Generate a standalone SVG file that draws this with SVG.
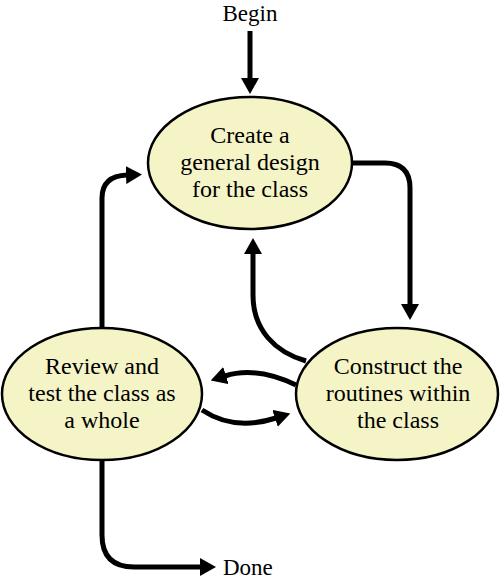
<svg xmlns="http://www.w3.org/2000/svg" width="500" height="582" viewBox="0 0 500 582">
<style>
.bub ellipse{fill:#f5f4c6;stroke:#000;stroke-width:2.5}
.conn path{fill:none;stroke:#000;stroke-width:5;marker-end:url(#ah)}
</style>
<defs>
<marker id="ah" viewBox="0 0 16 18" refX="1" refY="9" markerWidth="16" markerHeight="18" markerUnits="userSpaceOnUse" orient="auto">
<path d="M0,0 L16,9 L0,18 z" fill="#000"/>
</marker>
</defs>
<g id="begin"><text x="250" y="21" font-family="Liberation Serif" font-size="23" text-anchor="middle">Begin</text></g>
<g id="done"><text x="223" y="575" font-family="Liberation Serif" font-size="23">Done</text></g>
<g id="create" class="bub">
<ellipse cx="250" cy="163" rx="102" ry="66"/>
<text font-family="Liberation Serif" font-size="24" text-anchor="middle"><tspan font-family="Liberation Serif" x="250" y="143">Create a</tspan><tspan font-family="Liberation Serif" x="250" y="170">general design</tspan><tspan font-family="Liberation Serif" x="250" y="197">for the class</tspan></text>
</g>
<g id="review" class="bub">
<ellipse cx="102" cy="394" rx="100" ry="66"/>
<text font-family="Liberation Serif" font-size="24" text-anchor="middle"><tspan font-family="Liberation Serif" x="102" y="374">Review and</tspan><tspan font-family="Liberation Serif" x="102" y="401">test the class as</tspan><tspan font-family="Liberation Serif" x="102" y="428">a whole</tspan></text>
</g>
<g id="construct" class="bub">
<ellipse cx="397" cy="394" rx="101" ry="66"/>
<text font-family="Liberation Serif" font-size="24" text-anchor="middle"><tspan font-family="Liberation Serif" x="398" y="374">Construct the</tspan><tspan font-family="Liberation Serif" x="398" y="401">routines within</tspan><tspan font-family="Liberation Serif" x="398" y="428">the class</tspan></text>
</g>
<g id="connectors" class="conn">
<path d="M250 31 L250 79"/>
<path d="M352 163 L385 163 Q410 163 410 188 L410 305"/>
<path d="M102 328 L102 198 Q102 176 127 175"/>
<path d="M306 361 C275 352 253 330 253 295 L253 253"/>
<path d="M296 385 C275 375 250 368 225 376"/>
<path d="M202 410 C220 422 245 428 276 418"/>
<path d="M102 460 L102 535 Q102 567 134 567 L201 567"/>
</g>
</svg>
